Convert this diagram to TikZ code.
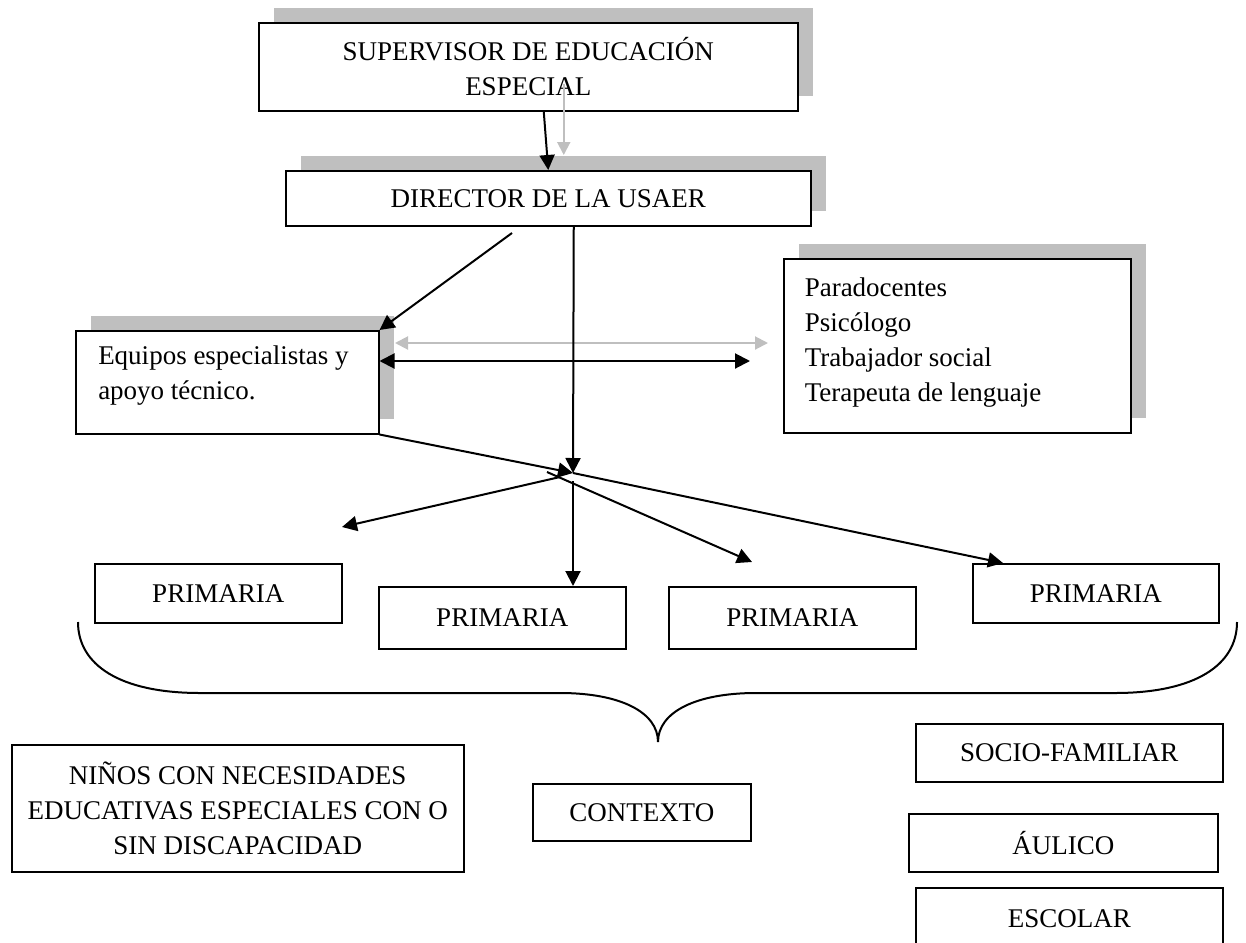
\documentclass[tikz,border=0pt]{standalone}
\usepackage{fontspec}
\setmainfont{Liberation Serif}
\usetikzlibrary{positioning,arrows.meta,shadows}

\begin{document}
\begin{tikzpicture}[x=0.5pt, y=-0.5pt,
  box/.style={draw=black, fill=white, line width=0.75pt, anchor=north west,
    align=center, inner sep=0pt, font=\fontsize{13.5}{17.5}\selectfont},
  sz/.style 2 args={minimum width=#1*0.5pt, minimum height=#2*0.5pt},
  shbox/.style={box, drop shadow={shadow xshift=7.5pt, shadow yshift=7.5pt,
    fill=black!25, opacity=1}},
  lbox/.style={shbox, align=flush left, inner xsep=10.5pt},
  ar/.style={-{Triangle[length=7.5pt, width=7.5pt]}, line width=1pt},
  dar/.style={{Triangle[length=7.5pt, width=7.5pt]}-{Triangle[length=7.5pt, width=7.5pt]}, line width=1pt},
  gar/.style={draw=black!25, -{Triangle[length=6.5pt, width=6.5pt]}, line width=1pt},
  gdar/.style={draw=black!25, {Triangle[length=6.5pt, width=6.5pt]}-{Triangle[length=6.5pt, width=6.5pt]}, line width=1pt}
]
\clip (0,0) rectangle (1246,942);

\node[shbox, sz={539}{88}] (sup) at (258,22) {SUPERVISOR DE EDUCACIÓN\\ ESPECIAL};
\node[shbox, sz={525}{55}] (dir) at (285,170) {DIRECTOR DE LA USAER};
\node[lbox, sz={303}{103}, text width=129pt, text depth=27.5pt] (eq) at (75,330)
  {Equipos especialistas y\\ apoyo técnico.};
\node[lbox, sz={347}{174}, text width=152.5pt, text depth=59pt] (para) at (783,258)
  {Paradocentes\\ Psicólogo\\ Trabajador social\\ Terapeuta de lenguaje};

\node[box, sz={247}{59}] (p1) at (94,563) {PRIMARIA};
\node[box, sz={247}{62}] (p2) at (378,586) {PRIMARIA};
\node[box, sz={247}{62}] (p3) at (668,586) {PRIMARIA};
\node[box, sz={246}{59}] (p4) at (972,563) {PRIMARIA};

\node[box, sz={452}{127}] (ninos) at (11,744)
  {NIÑOS CON NECESIDADES\\ EDUCATIVAS ESPECIALES CON O\\ SIN DISCAPACIDAD};
\node[box, sz={218}{57}] (ctx) at (532,783) {CONTEXTO};
\node[box, sz={307}{58}] (socio) at (915,723) {SOCIO-FAMILIAR};
\node[box, sz={309}{58}] (aulico) at (908,813) {ÁULICO};
\node[box, sz={307}{62}] (escolar) at (915,887) {ESCOLAR};

\coordinate (hub) at (573,473);
\coordinate (fanl) at (560,477);
\coordinate (fanr) at (547,472);
\coordinate (tipl) at (342,527);
\coordinate (tipr) at (752,562);
\coordinate (eqtop) at (512,233);
\coordinate (pright) at (750,361);
\coordinate (gl) at (395,343);
\coordinate (gr) at (768,343);

\draw[gar] ([xshift=17.75pt, yshift=14pt]sup.south) -- ([xshift=7.75pt, yshift=7.5pt]dir.north);
\draw[ar] ([xshift=7.75pt]sup.south) -- (dir.north);
\draw[ar] (eqtop) -- (eq.north east);
\draw[gdar] (gl) -- (gr);
\draw[dar] ([yshift=-15.5pt]eq.north east) -- (pright);
\draw[ar] ([xshift=12.75pt]dir.south) -- (hub);
\draw[ar] (eq.south east) -- (hub);
\draw[ar] (hub) -- ([xshift=15.5pt]p4.north west);
\draw[ar] (fanl) -- (tipl);
\draw[ar] (fanr) -- (tipr);
\draw[ar] ([yshift=-4pt]hub) -- (hub |- p2.north);

\draw[line width=1pt] (78,622) .. controls (78,665) and (120,693) .. (200,693)
  -- (560,693) .. controls (620,693) and (658,712) .. (658,742)
  .. controls (658,712) and (696,693) .. (756,693)
  -- (1115,693) .. controls (1195,693) and (1237,665) .. (1237,622);
\end{tikzpicture}
\end{document}
